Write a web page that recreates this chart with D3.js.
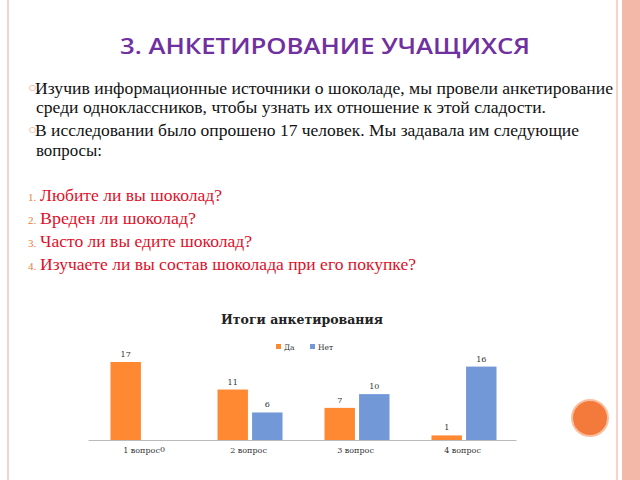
<!DOCTYPE html>
<html><head><meta charset="utf-8">
<script src="https://cdn.jsdelivr.net/npm/d3@7"></script>
<style>body{margin:0;background:#fff}</style></head>
<body><svg id="c" width="640" height="480"></svg>
<script>
const categories = ["1 вопрос", "2 вопрос", "3 вопрос", "4 вопрос"];
const seriesNames = ["Да", "Нет"];
const yesValues = [17, 11, 7, 1];
const noValues = [0, 6, 10, 16];
const colors = ["#ff8833", "#7398d8"];

const svg = d3.select("#c");
svg.append("rect").attr("x",0).attr("y",0).attr("width",640).attr("height",480).attr("fill","#fff");
svg.append("rect").attr("x",622).attr("y",0).attr("width",18).attr("height",480).attr("fill","#f4b8a8");
svg.append("line").attr("x1",8).attr("x2",8).attr("y1",0).attr("y2",480).attr("stroke","#f2c4b8").attr("stroke-width",1.5);
svg.append("line").attr("x1",617).attr("x2",617).attr("y1",0).attr("y2",480).attr("stroke","#f2c4b8").attr("stroke-width",1.5);
svg.append("circle").attr("cx",590).attr("cy",418).attr("r",18).attr("fill","#f47a3c").attr("stroke","#f8c0a0").attr("stroke-width",2);

svg.append("text").attr("x",120).attr("y",54)
  .attr("font-family","Open Sans, sans-serif").attr("font-size",22).attr("font-weight","600")
  .attr("fill","#7030a0").attr("textLength",410).attr("lengthAdjust","spacingAndGlyphs").text("3. АНКЕТИРОВАНИЕ УЧАЩИХСЯ");

const body = [
  {t:"Изучив информационные источники о шоколаде, мы провели анкетирование", y:94, b:true, w:578},
  {t:"среди  одноклассников, чтобы узнать их отношение к этой сладости.", y:113, w:510},
  {t:"В исследовании было опрошено 17 человек. Мы задавала им следующие", y:136, b:true, w:544},
  {t:"вопросы:", y:156, w:66}
];
body.forEach(l=>{
  svg.append("text").attr("x",l.b?35:36).attr("y",l.y).attr("font-family","Liberation Serif, serif")
    .attr("font-size",16.5).attr("fill","#111").attr("textLength",l.w).attr("lengthAdjust","spacingAndGlyphs").text(l.t);
  if(l.b) svg.append("text").attr("x",29).attr("y",l.y-4).attr("font-size",8).attr("fill","#e8803c").attr("font-family","DejaVu Sans").text("○");
});
const qs=["Любите ли вы шоколад?","Вреден ли  шоколад?","Часто ли вы едите шоколад?","Изучаете ли вы состав шоколада при его покупке?"];
const qw=[182,156,212,376];
qs.forEach((q,i)=>{
  const y=201+i*23;
  svg.append("text").attr("x",28).attr("y",y).attr("font-family","Liberation Serif, serif").attr("font-size",11).attr("fill","#e8803c").text((i+1)+".");
  svg.append("text").attr("x",40).attr("y",y).attr("font-family","Liberation Serif, serif").attr("font-size",16.5).attr("fill","#e0102a")
    .attr("textLength",qw[i]).attr("lengthAdjust","spacingAndGlyphs").text(q);
});

svg.append("text").attr("x",302).attr("y",324).attr("text-anchor","middle")
  .attr("font-family","DejaVu Serif, serif").attr("font-weight","bold").attr("font-size",12.5).attr("fill","#222").text("Итоги анкетирования");
const lg = svg.append("g").attr("font-family","DejaVu Serif, serif").attr("font-size",7.5).attr("fill","#333");
seriesNames.forEach((s,i)=>{
  const x=276+i*34;
  lg.append("rect").attr("x",x).attr("y",344).attr("width",5).attr("height",5).attr("fill",colors[i]);
  lg.append("text").attr("x",x+8).attr("y",350).text(s);
});

const x0 = d3.scaleBand().domain(categories).range([88,516]);
const x1 = d3.scaleBand().domain(seriesNames).range([x0.bandwidth()/2-31, x0.bandwidth()/2+34]).paddingInner(0.12);
const y = d3.scaleLinear().domain([0,17]).range([440,362]);
const data = categories.map((c,i)=>({c, v:[yesValues[i], noValues[i]]}));
const g = svg.append("g");
data.forEach(d=>{
  d.v.forEach((v,j)=>{
    const xx = x0(d.c)+x1(seriesNames[j]);
    if(v>0) g.append("rect").attr("x",xx).attr("y",y(v)).attr("width",x1.bandwidth()).attr("height",y(0)-y(v)).attr("fill",colors[j]);
    if(!(j==1 && v==0)) g.append("text").attr("x",xx+x1.bandwidth()/2).attr("y",y(v)-5).attr("text-anchor","middle")
      .attr("font-family","DejaVu Serif, serif").attr("font-size",8).attr("fill","#333").text(v);
  });
});
const ax = svg.append("g").attr("transform","translate(0,440)").call(d3.axisBottom(x0).tickSize(0).tickPadding(7));
ax.select(".domain").attr("stroke","#bbb");
ax.selectAll("text").attr("font-family","DejaVu Serif, serif").attr("font-size",8).attr("fill","#333");
svg.append("text").attr("x",160).attr("y",452)
  .attr("font-family","DejaVu Serif, serif").attr("font-size",8).attr("fill","#333").text(noValues[0]);
</script></body></html>
